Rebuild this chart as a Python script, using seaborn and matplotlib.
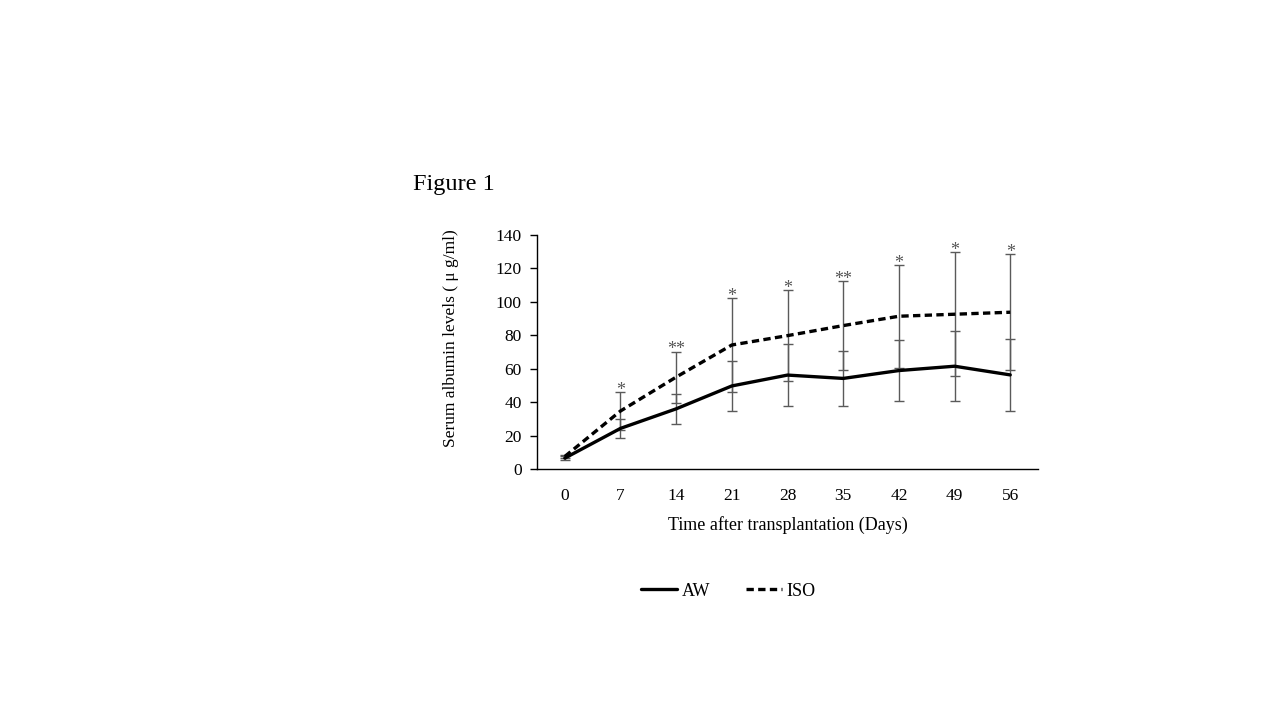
import matplotlib
matplotlib.use("Agg")
import matplotlib.pyplot as plt
import seaborn as sns
import pandas as pd

# Serum albumin over time, mean and SD
days = [0, 7, 14, 21, 28, 35, 42, 49, 56]
aw_mean = [6.5, 24.3, 36.0, 49.7, 56.2, 54.2, 58.9, 61.5, 56.3]
aw_sd = [1.0, 5.5, 9.0, 15.2, 18.5, 16.4, 18.3, 21.0, 21.3]
iso_mean = [7.5, 34.7, 55.0, 74.2, 79.8, 85.8, 91.4, 92.6, 93.8]
iso_sd = [1.0, 11.2, 15.3, 27.9, 27.1, 26.7, 30.7, 37.1, 34.7]
stars = ["", "*", "**", "*", "*", "**", "*", "*", "*"]

df = pd.DataFrame({
    "day": days * 2,
    "value": aw_mean + iso_mean,
    "group": ["AW"] * len(days) + ["ISO"] * len(days),
})

sns.set_theme(style="white")
plt.rcParams["font.family"] = ["Liberation Serif", "DejaVu Serif"]
plt.rcParams["text.color"] = "black"
plt.rcParams["axes.labelcolor"] = "black"
plt.rcParams["xtick.color"] = "black"
plt.rcParams["ytick.color"] = "black"

fig = plt.figure(figsize=(12.8, 7.2), dpi=100)
ax = fig.add_axes([0.4195, 0.3486, 0.3915, 0.325])

# error bars first so the lines sit on top
ax.errorbar(days, aw_mean, yerr=aw_sd, fmt="none", ecolor="#5a5a5a",
            elinewidth=1, capsize=3.5, capthick=1, zorder=1)
ax.errorbar(days, iso_mean, yerr=iso_sd, fmt="none", ecolor="#5a5a5a",
            elinewidth=1, capsize=3.5, capthick=1, zorder=1)

sns.lineplot(data=df, x="day", y="value", hue="group", style="group",
             palette=["black", "black"], dashes={"AW": "", "ISO": (2.2, 1.3)},
             linewidth=2.4, ax=ax, legend=False, zorder=3)

for d, m, s, t in zip(days, iso_mean, iso_sd, stars):
    if t:
        ax.text(d, m + s + 1.0, t, ha="center", va="center", fontsize=13,
                color="#555555")

ax.set_xlim(-3.5, 59.5)
ax.set_ylim(0, 140)
ax.set_xticks(days)
ax.set_xticklabels([str(d) for d in days])
ax.set_yticks(range(0, 141, 20))
ax.tick_params(axis="x", length=0, pad=14, labelsize=12.5)
ax.tick_params(axis="y", length=5, width=1, direction="out", left=True,
               pad=6, labelsize=12.5)
for side in ["top", "right"]:
    ax.spines[side].set_visible(False)
for side in ["left", "bottom"]:
    ax.spines[side].set_color("black")
    ax.spines[side].set_linewidth(1)

ax.set_xlabel("Time after transplantation (Days)", fontsize=13, labelpad=8)
ax.set_ylabel("Serum albumin levels ( μ g/ml)", fontsize=12.5)
ax.yaxis.set_label_coords(-0.155, 0.56)

fig.text(0.323, 0.744, "Figure 1", fontsize=17.5, ha="left", va="center")

handles = [
    plt.Line2D([], [], color="black", linewidth=2.4),
    plt.Line2D([], [], color="black", linewidth=2.4, dashes=(2.2, 1.3)),
]
fig.legend(handles, ["AW", "ISO"], loc="center", bbox_to_anchor=(0.569, 0.179),
           ncol=2, frameon=False, fontsize=13, handlelength=2.0,
           handletextpad=0.25, columnspacing=2.0)

fig.savefig("out.png", dpi=100)
